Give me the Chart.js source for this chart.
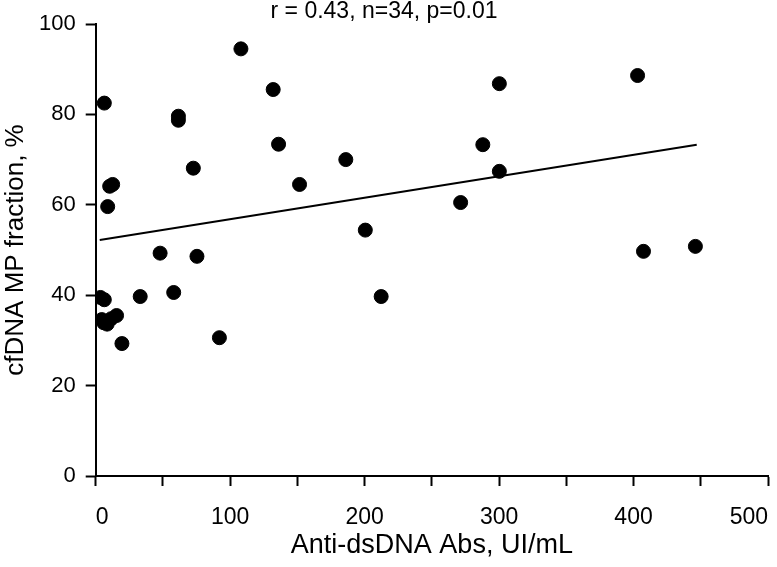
<!DOCTYPE html>
<html>
<head>
<meta charset="utf-8">
<script src="https://cdn.jsdelivr.net/npm/chart.js@4/dist/chart.umd.min.js"></script>
<style>
  body { margin: 0; background: #fff; }
  #wrap { width: 777px; height: 567px; }
</style>
</head>
<body>
<div id="wrap"><canvas id="myChart"></canvas></div>
<script>
// 산점도 데이터
const antiDsDNA = [6.4, 61.5, 61.5, 108, 132, 136, 72.6, 10.4, 12.6, 8.9, 47.9, 75.3,
  3.5, 6.4, 33.1, 58, 4.5, 8.5, 11.5, 15.5, 6, 19.5, 92,
  186, 151.6, 300.2, 287.9, 300.2, 271.4, 200.5, 212.3, 403, 407.4, 446];
const mpFraction = [82.5, 79.6, 78.7, 94.5, 85.5, 73.4, 68.1, 64.1, 64.5, 59.6, 49.3, 48.6,
  39.5, 39.0, 39.7, 40.6, 34.6, 33.6, 34.8, 35.5, 33.9, 29.3, 30.6,
  70.0, 64.5, 86.8, 73.3, 67.4, 60.5, 54.4, 39.7, 88.6, 49.7, 50.8];

// 회귀선 양 끝점
const trendX = [3, 447];
const trendY = [52.2, 73.3];

const xTicks = [0, 100, 200, 300, 400, 500];
const xMinorTicks = [50, 150, 250, 350, 450];
const yTicks = [0, 20, 40, 60, 80, 100];

const titleText = 'r = 0.43, n=34, p=0.01';

const points = antiDsDNA.map((x, i) => ({ x: x, y: mpFraction[i] }));
const trend = trendX.map((x, i) => ({ x: x, y: trendY[i] }));

const ctx = document.getElementById('myChart').getContext('2d');
const sans = "'Liberation Sans', Arial, sans-serif";

new Chart(ctx, {
  type: 'scatter',
  data: {
    datasets: [{
      data: points,
      backgroundColor: '#000',
      borderColor: '#000',
      pointRadius: 7,
      pointHoverRadius: 7
    }, {
      type: 'line',
      data: trend,
      borderColor: '#000',
      borderWidth: 2,
      pointRadius: 0,
      fill: false
    }]
  },
  options: {
    responsive: true,
    maintainAspectRatio: false,
    animation: false,
    layout: { padding: { top: 0, right: 9, left: 0, bottom: 8 } },
    plugins: {
      legend: { display: false },
      tooltip: { enabled: false },
      title: {
        display: true,
        text: titleText,
        color: '#000',
        font: { family: sans, size: 23, weight: 'normal', lineHeight: 1 },
        padding: { top: 0, bottom: 1 }
      }
    },
    scales: {
      x: {
        type: 'linear',
        min: 0,
        max: 500,
        afterBuildTicks: (axis) => {
          axis.ticks = xTicks.concat(xMinorTicks).sort((a, b) => a - b).map(v => ({ value: v }));
        },
        // 라벨 간격(padding)이 오른쪽 여백으로 잡히지 않도록 조정
        afterFit: (scale) => { scale.paddingRight = 0; },
        border: { color: '#000', width: 2 },
        grid: { drawOnChartArea: false, drawTicks: true, tickLength: 10, tickColor: '#000', tickWidth: 2 },
        ticks: {
          color: '#000',
          padding: 20,
          align: 'inner',
          maxRotation: 0,
          font: { family: sans, size: 23, lineHeight: 1 },
          callback: (v) => xTicks.includes(v) ? String(v) : ''
        },
        title: {
          display: true,
          text: 'Anti-dsDNA Abs, UI/mL',
          color: '#000',
          font: { family: sans, size: 27, lineHeight: 1 },
          padding: { top: -17, bottom: 0 }
        }
      },
      y: {
        min: 0,
        max: 100,
        afterBuildTicks: (axis) => { axis.ticks = yTicks.map(v => ({ value: v })); },
        border: { color: '#000', width: 2 },
        grid: { drawOnChartArea: false, drawTicks: true, tickLength: 10, tickColor: '#000', tickWidth: 2 },
        ticks: {
          color: '#000',
          padding: 10,
          font: { family: sans, size: 22 }
        },
        title: {
          display: true,
          text: 'cfDNA MP fraction, %',
          color: '#000',
          font: { family: sans, size: 26, lineHeight: 1 },
          padding: { top: 3, bottom: 0 }
        }
      }
    }
  }
});
</script>
</body>
</html>
